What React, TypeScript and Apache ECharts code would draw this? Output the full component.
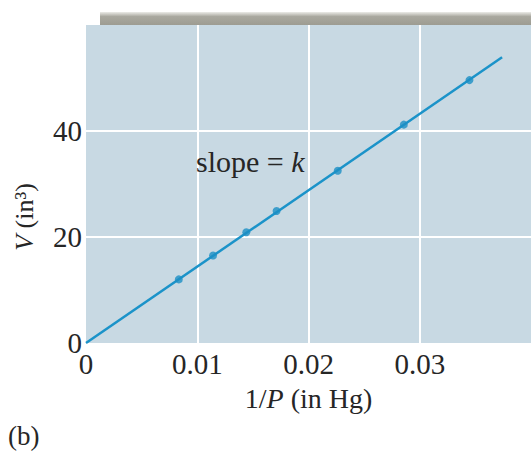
import React, { useEffect, useRef } from "react";
import * as echarts from "echarts";

const xTicks = [0, 0.01, 0.02, 0.03, 0.04];
const yTicks = [0, 20, 40, 60];
const invP = [0.00834, 0.01142, 0.01441, 0.01713, 0.02263, 0.02857, 0.03447];
const volume = [12.0, 16.5, 20.9, 24.9, 32.5, 41.2, 49.6];
const fitLine = [
  [0, 0],
  [0.0374, 53.9],
];

const FONT = "Liberation Serif";
const TXT = "#262626";

export default function App() {
  const ref = useRef<HTMLDivElement>(null);
  useEffect(() => {
    if (!ref.current) return;
    const chart = echarts.init(ref.current, undefined, { renderer: "svg" });
    chart.setOption({
      animation: false,
      backgroundColor: "#ffffff",
      textStyle: { fontFamily: FONT, color: TXT },
      grid: {
        left: 86,
        right: 0,
        top: 25,
        bottom: 115,
        show: true,
        backgroundColor: "#c8d9e3",
        borderWidth: 0,
        containLabel: false,
        outerBoundsMode: "none",
      },
      xAxis: {
        type: "value",
        min: xTicks[0],
        max: xTicks[xTicks.length - 1],
        interval: 0.01,
        name: "{n|1/}{i|P}{n| (in Hg)}",
        nameLocation: "middle",
        nameGap: 41,
        nameTextStyle: {
          rich: {
            n: { fontFamily: FONT, fontSize: 28, color: TXT },
            i: { fontFamily: FONT, fontSize: 28, color: TXT, fontStyle: "italic" },
          },
        },
        axisLine: { show: false },
        axisTick: { show: false },
        axisLabel: {
          showMaxLabel: false,
          margin: 6,
          fontFamily: FONT,
          fontSize: 29,
          color: TXT,
          formatter: (v: number) => (v === 0 ? "0" : v.toFixed(2)),
        },
        splitLine: {
          show: true,
          showMinLine: false,
          showMaxLine: false,
          lineStyle: { color: "#ffffff", width: 2 },
        },
      },
      yAxis: {
        type: "value",
        min: yTicks[0],
        max: yTicks[yTicks.length - 1],
        interval: 20,
        axisLine: { show: false },
        axisTick: { show: false },
        axisLabel: {
          showMaxLabel: false,
          margin: 4,
          fontFamily: FONT,
          fontSize: 29,
          color: TXT,
        },
        splitLine: {
          show: true,
          showMinLine: false,
          showMaxLine: false,
          lineStyle: { color: "#ffffff", width: 2 },
        },
      },
      graphic: [
        {
          type: "rect",
          shape: { x: 100, y: 12, width: 431, height: 13 },
          style: {
            fill: new echarts.graphic.LinearGradient(0, 0, 0, 1, [
              { offset: 0, color: "#ecece8" },
              { offset: 0.35, color: "#a9a89f" },
              { offset: 1, color: "#9d9c92" },
            ]),
          },
          z: 1,
        },
        {
          type: "text",
          x: 24,
          y: 217,
          rotation: Math.PI / 2,
          style: {
            text: "{i|V}{n| (in³)}",
            align: "center",
            verticalAlign: "middle",
            rich: {
              n: { fontFamily: FONT, fontSize: 26, fill: TXT },
              i: { fontFamily: FONT, fontSize: 26, fill: TXT, fontStyle: "italic" },
            },
          },
        },
        {
          type: "text",
          left: 196,
          top: 146,
          style: {
            text: "{n|slope = }{i|k}",
            rich: {
              n: { fontFamily: FONT, fontSize: 30, fill: TXT },
              i: { fontFamily: FONT, fontSize: 30, fill: TXT, fontStyle: "italic" },
            },
          },
          z: 10,
        },
        {
          type: "text",
          left: 8,
          top: 422,
          style: {
            text: "(b)",
            fontFamily: FONT,
            fontSize: 27,
            fill: TXT,
          },
        },
      ],
      series: [
        {
          type: "line",
          data: fitLine,
          showSymbol: false,
          symbol: "none",
          lineStyle: { color: "#1b93c9", width: 2.5 },
          z: 2,
        },
        {
          type: "scatter",
          data: invP.map((x, i) => [x, volume[i]]),
          symbol: "circle",
          symbolSize: 8,
          itemStyle: { color: "#1b8fc4" },
          z: 3,
        },
      ],
    });
    return () => chart.dispose();
  }, []);
  return (
    <div
      ref={ref}
      style={{ position: "fixed", left: 0, top: 0, width: 531, height: 458 }}
    />
  );
}
